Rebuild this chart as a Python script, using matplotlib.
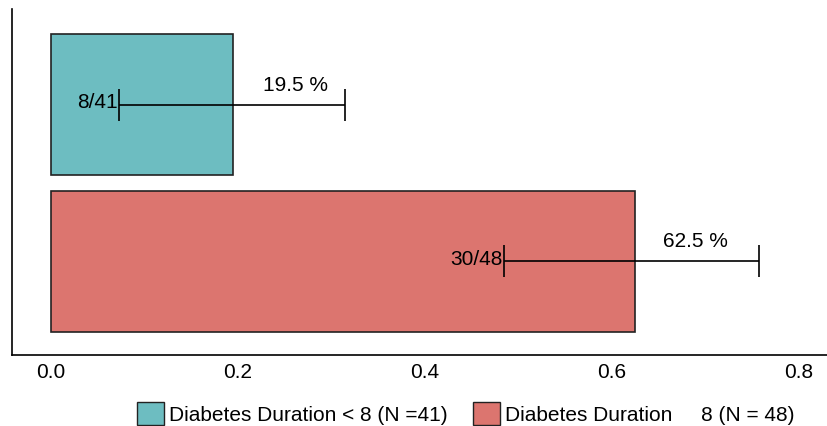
import matplotlib
matplotlib.use("Agg")
import matplotlib.pyplot as plt
from matplotlib.patches import Patch

plt.rcParams['font.family'] = ['Liberation Sans', 'DejaVu Sans']

groups = ["Diabetes Duration < 8 (N =41)", "Diabetes Duration     8 (N = 48)"]
proportions = [0.195, 0.625]
ci_low = [0.073, 0.485]
ci_high = [0.314, 0.757]
counts = ["8/41", "30/48"]
pct_labels = ["19.5 %", "62.5 %"]
colors = ["#6DBDC1", "#DC756F"]
ypos = [1, 0]

fig = plt.figure(figsize=(8.27, 4.27), dpi=100)
ax = fig.add_axes([0.0145, 0.166, 0.9855, 0.8106])

for y, p, lo, hi, c, col, pl in zip(ypos, proportions, ci_low, ci_high, counts, colors, pct_labels):
    ax.barh(y, p, height=0.9, color=col, edgecolor="#222222", linewidth=1.2)
    ax.errorbar([(lo + hi) / 2], [y], xerr=[[(hi - lo) / 2], [(hi - lo) / 2]],
                fmt="none", ecolor="black", elinewidth=1.2, capsize=11.5, capthick=1.2)
    ax.text(lo - 0.002, y + 0.02, c, ha="right", va="center", fontsize=15)
    ax.text(hi - 0.052 if y == 1 else hi - 0.068, y + 0.13, pl, ha="center", va="center", fontsize=15)

ax.set_xlim(-0.0417, 0.83)
ax.set_ylim(-0.6, 1.61)
ax.set_xticks([0.0, 0.2, 0.4, 0.6, 0.8])
ax.set_xticklabels(["0.0", "0.2", "0.4", "0.6", "0.8"], fontsize=15)
ax.tick_params(axis="x", length=0, pad=5)
ax.set_yticks([])
for s in ["top", "right"]:
    ax.spines[s].set_visible(False)
ax.spines["left"].set_linewidth(1.2)
ax.spines["bottom"].set_linewidth(1.2)

handles = [Patch(facecolor=colors[0], edgecolor="#222222", label=groups[0]),
           Patch(facecolor=colors[1], edgecolor="#222222", label=groups[1])]
fig.legend(handles=handles, loc="center", bbox_to_anchor=(0.563, 0.03), ncol=2,
           frameon=False, fontsize=15, handlelength=1.3, handleheight=1.3,
           handletextpad=0.25, columnspacing=1.2, borderaxespad=0)

fig.savefig("out.png", dpi=100)
